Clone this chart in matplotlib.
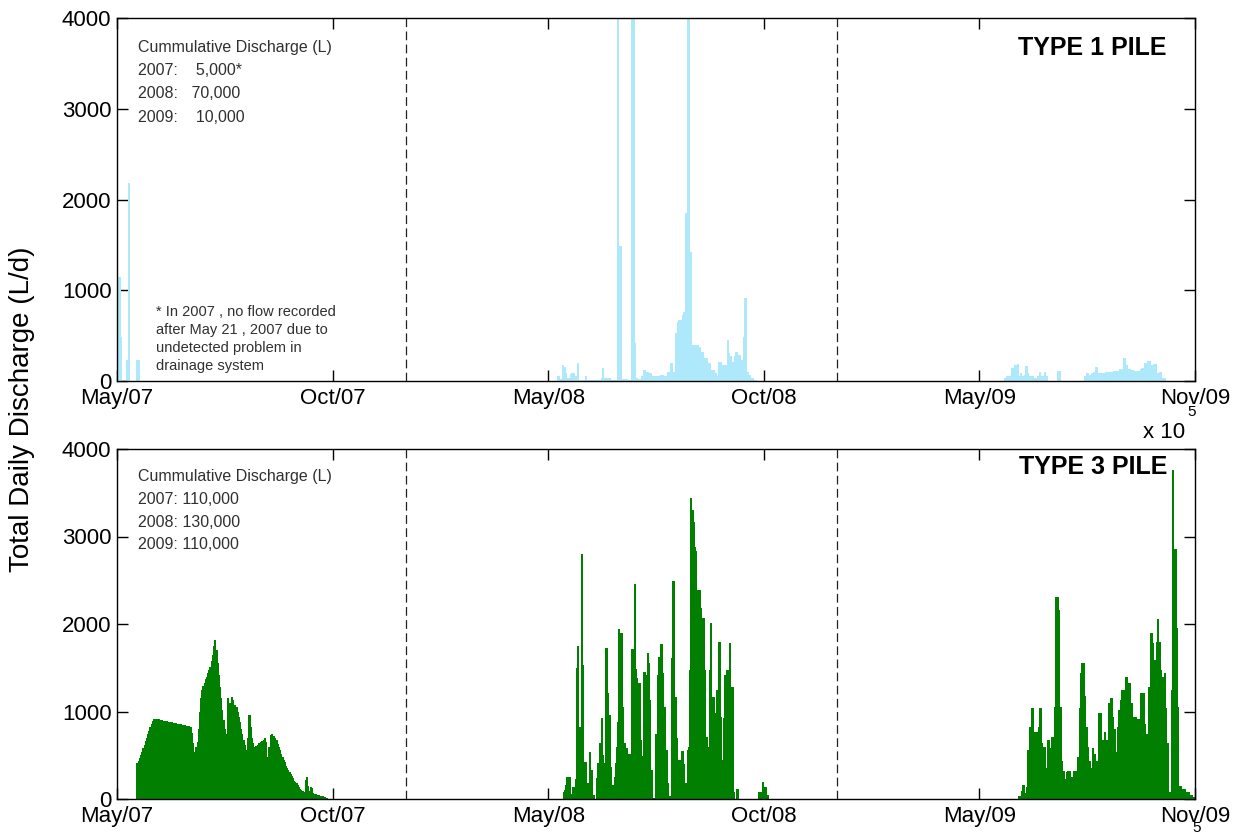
import pandas as pd
import matplotlib
matplotlib.use("Agg")
import matplotlib.pyplot as plt
import matplotlib.dates as mdates

plt.rcParams['font.family'] = ['Liberation Sans', 'DejaVu Sans']

# ---------------------------------------------------------------------------
# Daily discharge (L/d); each series starts on the given date, one value per day
# ---------------------------------------------------------------------------
T1_2007_START = "2007-05-01"
T1_2007 = [0, 1150, 1150, 485, 0, 0, 0, 0, 230, 230, 2180, 0, 0, 0, 0, 0, 0,
           230, 230, 0, 0]

T1_2008_START = "2008-05-09"
T1_2008 = [55, 55, 20, 20, 176, 158, 158, 85, 30, 30, 30, 77, 85, 85, 50, 50,
           50, 195, 10, 10, 10, 10, 10, 10, 55, 10, 10, 10, 10, 10, 10, 10, 10,
           10, 10, 10, 10, 30, 140, 30, 30, 30, 30, 30, 30, 10, 10, 10, 10, 10,
           10, 9000, 1488, 1488, 20, 20, 20, 20, 20, 10, 10, 10, 10, 8000, 8000,
           415, 30, 30, 20, 20, 20, 50, 50, 120, 120, 100, 100, 85, 85, 85, 50,
           50, 50, 50, 50, 50, 50, 66, 66, 66, 50, 50, 50, 100, 100, 100, 200,
           200, 100, 100, 525, 525, 654, 670, 670, 670, 727, 764, 764, 1848,
           12000, 12000, 1425, 1425, 397, 397, 397, 160, 397, 397, 375, 325,
           325, 325, 250, 250, 250, 195, 195, 195, 120, 120, 120, 85, 85, 50,
           50, 210, 210, 176, 176, 176, 176, 176, 450, 305, 270, 270, 210, 210,
           270, 315, 315, 286, 286, 230, 230, 176, 485, 910, 100, 100, 66, 66,
           30, 30, 10, 10, 10]

T1_2009_START = "2009-05-23"
T1_2009 = [30, 30, 50, 50, 50, 50, 140, 140, 66, 176, 176, 184, 50, 50, 85, 50,
           50, 66, 165, 165, 85, 50, 50, 50, 50, 30, 30, 30, 50, 50, 100, 50,
           50, 50, 100, 50, 50, 0, 0, 0, 0, 0, 0, 0, 0, 110, 110, 110, 0, 0, 0,
           0, 0, 0, 0, 0, 0, 0, 0, 0, 0, 0, 0, 0, 0, 0, 0, 0, 50, 50, 85, 85,
           66, 66, 85, 85, 100, 100, 150, 85, 85, 92, 92, 92, 92, 92, 100, 100,
           100, 100, 100, 100, 100, 115, 115, 115, 115, 115, 130, 130, 130, 257,
           257, 176, 176, 130, 130, 120, 120, 120, 115, 115, 115, 115, 115, 115,
           130, 140, 140, 200, 200, 200, 220, 220, 176, 176, 66, 188, 188, 85,
           85, 85, 100, 100, 30, 30, 30]

T3_2007_START = "2007-05-18"
T3_2007 = [410, 440, 470, 500, 540, 580, 620, 660, 700, 740, 780, 820, 860, 890,
           910, 920, 915, 912, 909, 906, 903, 900, 897, 894, 891, 888, 885, 882,
           879, 876, 873, 870, 867, 864, 861, 858, 855, 852, 849, 846, 843, 840,
           837, 834, 831, 826, 760, 640, 540, 480, 600, 655, 800, 1000, 1150,
           1245, 1290, 1330, 1370, 1400, 1440, 1480, 1510, 1580, 1650, 1750,
           1815, 1700, 1560, 1420, 1285, 1150, 1020, 903, 800, 740, 697, 1150,
           1100, 1074, 1163, 1130, 1074, 1074, 1050, 1000, 940, 880, 800, 740,
           674, 620, 560, 523, 700, 960, 820, 697, 640, 597, 600, 610, 620, 635,
           643, 650, 660, 680, 697, 650, 480, 381, 600, 732, 740, 720, 716, 700,
           670, 630, 600, 560, 520, 484, 450, 420, 380, 350, 330, 312, 290, 260,
           235, 210, 190, 179, 160, 140, 120, 100, 90, 80, 70, 213, 255, 150, 90,
           140, 130, 70, 60, 55, 50, 45, 45, 40, 35, 30, 25, 20, 15, 10]

T3_2008_START = "2008-05-14"
T3_2008 = [80, 100, 160, 248, 248, 248, 60, 60, 140, 140, 232, 1494, 1750, 826,
           826, 2800, 1530, 426, 426, 426, 180, 40, 540, 330, 330, 50, 0, 0, 236,
           408, 408, 636, 922, 500, 330, 408, 1722, 1208, 960, 960, 370, 160,
           160, 250, 408, 600, 882, 1940, 1900, 1900, 1055, 636, 636, 580, 510,
           510, 510, 270, 1714, 1714, 2457, 1482, 1380, 1330, 1330, 674, 490,
           490, 1448, 1448, 1420, 1665, 1550, 1130, 330, 330, 10, 10, 743, 743,
           1420, 1626, 1772, 1772, 1437, 1055, 1055, 560, 180, 40, 40, 40, 1608,
           2492, 1170, 1170, 694, 446, 446, 412, 552, 552, 400, 180, 180, 560,
           590, 1475, 3437, 3300, 3170, 2884, 2830, 1780, 2389, 2389, 2180, 1570,
           2065, 2065, 1475, 712, 597, 597, 1470, 2015, 1170, 1170, 980, 694,
           1246, 1246, 1790, 938, 446, 446, 930, 1417, 1475, 1475, 1480, 1780,
           1283, 1283, 80, 0, 0, 115, 115, 0, 0, 0, 0, 0, 0, 0, 0, 0, 0, 0, 0, 0,
           0, 0, 0, 0, 80, 80, 80, 190, 135, 135, 50, 50]

T3_2009_START = "2009-06-04"
T3_2009 = [40, 40, 40, 95, 160, 70, 70, 135, 560, 560, 826, 1036, 1036, 674, 770,
           770, 636, 826, 1043, 1043, 636, 598, 598, 293, 360, 674, 674, 580, 712,
           712, 135, 1055, 2312, 2312, 2160, 1055, 1055, 440, 325, 230, 230, 305,
           325, 325, 170, 250, 250, 325, 325, 325, 483, 483, 1036, 1437, 1551,
           1551, 1180, 826, 826, 598, 440, 360, 360, 580, 520, 520, 440, 343,
           980, 980, 980, 674, 674, 770, 674, 674, 540, 1094, 1150, 1150, 935,
           800, 800, 540, 820, 1017, 1017, 1130, 1246, 1246, 1246, 1398, 1398,
           1170, 1322, 1094, 1094, 820, 935, 935, 916, 820, 916, 916, 1215, 1208,
           1208, 857, 743, 743, 743, 1283, 1894, 1894, 1780, 1590, 1590, 1800,
           2054, 1800, 1800, 1475, 1398, 1398, 1437, 1036, 636, 636, 84, 84,
           1246, 3760, 2854, 2854, 1951, 1055, 148, 148, 148, 114, 114, 114, 76,
           76, 76, 50, 50, 50, 25, 25, 25]

TYPE1_SUMMARY = ["Cummulative Discharge (L)", "2007:    5,000*",
                 "2008:   70,000", "2009:    10,000"]
TYPE3_SUMMARY = ["Cummulative Discharge (L)", "2007: 110,000",
                 "2008: 130,000", "2009: 110,000"]
TYPE1_NOTE = ["* In 2007 , no flow recorded", "after May 21 , 2007 due to",
              "undetected problem in", "drainage system"]
PANEL_TITLES = ["TYPE 1 PILE", "TYPE 3 PILE"]

AXIS_START = "2007-05-01"
TICK_STEP_DAYS = 183
N_TICKS = 6
YEAR_BREAKS = ["2008-01-01", "2009-01-01"]
Y_TICKS = [0, 1000, 2000, 3000, 4000]

TYPE1_COLOR = "#aee9fb"
TYPE3_COLOR = "#007f00"
TEXT_GRAY = "#303030"


def series_dates(start, values):
    return pd.date_range(start, periods=len(values), freq="D")


start = pd.Timestamp(AXIS_START)
tick_dates = [start + pd.Timedelta(days=TICK_STEP_DAYS * k) for k in range(N_TICKS)]
tick_pos = [mdates.date2num(d) for d in tick_dates]
tick_lab = [d.strftime("%b/%y") for d in tick_dates]

fig = plt.figure(figsize=(12.42, 8.35), dpi=100)
ax1 = fig.add_axes([117 / 1242, 1 - 381 / 835, 1078 / 1242, 363 / 835])
ax2 = fig.add_axes([117 / 1242, 1 - 799 / 835, 1078 / 1242, 350 / 835])

panels = [
    (ax1, [(T1_2007_START, T1_2007), (T1_2008_START, T1_2008),
           (T1_2009_START, T1_2009)], TYPE1_COLOR, TYPE1_SUMMARY, 0.918),
    (ax2, [(T3_2007_START, T3_2007), (T3_2008_START, T3_2008),
           (T3_2009_START, T3_2009)], TYPE3_COLOR, TYPE3_SUMMARY, 0.949),
]

for (ax, series, color, summary, title_y), title in zip(panels, PANEL_TITLES):
    for s, vals in series:
        # daily bars, edge in the fill colour so neighbouring days join up
        ax.bar(series_dates(s, vals), vals, width=1.0, color=color,
               edgecolor=color, linewidth=0.5, antialiased=False,
               align="center", zorder=2)
    for yb in YEAR_BREAKS:
        ax.axvline(mdates.date2num(pd.Timestamp(yb)), color="#202020",
                   linestyle=(0, (7, 3.5)), linewidth=0.9, zorder=3)
    ax.set_xlim(tick_pos[0], tick_pos[-1])
    ax.set_ylim(0, 4000)
    ax.set_xticks(tick_pos)
    ax.set_xticklabels(tick_lab)
    ax.set_yticks(Y_TICKS)
    ax.set_yticklabels([str(v) for v in Y_TICKS])
    ax.tick_params(direction="in", length=8, width=1, top=True, right=True,
                   labelsize=16, colors="black")
    ax.tick_params(axis="x", pad=5)
    ax.tick_params(axis="y", pad=4)
    for sp in ax.spines.values():
        sp.set_linewidth(1.0)
        sp.set_color("black")
    ax.set_facecolor("white")
    for i, line in enumerate(summary):
        ax.text(0.0195, 0.92 - i * 0.0645, line, transform=ax.transAxes,
                fontsize=11.5, color=TEXT_GRAY, va="center", ha="left")
    ax.text(0.974, title_y, title, transform=ax.transAxes,
            fontsize=18, fontweight="bold", va="center", ha="right")

for i, line in enumerate(TYPE1_NOTE):
    ax1.text(0.036, 0.19 - i * 0.0496, line, transform=ax1.transAxes,
             fontsize=10.5, color=TEXT_GRAY, va="center", ha="left",
             family=["Liberation Sans Narrow", "Liberation Sans"])

fig.text(22 / 1242, 1 - 409 / 835, "Total Daily Discharge (L/d)", rotation=90,
         fontsize=20, va="center", ha="center")

# axis exponent markers
fig.text(1143 / 1242, 1 - 432 / 835, "x 10", fontsize=16, va="center", ha="left")
fig.text(1192 / 1242, 1 - 412 / 835, "5", fontsize=11, va="center", ha="center")
fig.text(1197 / 1242, 1 - 828 / 835, "5", fontsize=11, va="center", ha="center")

fig.savefig("out.png", dpi=100, facecolor="white")
